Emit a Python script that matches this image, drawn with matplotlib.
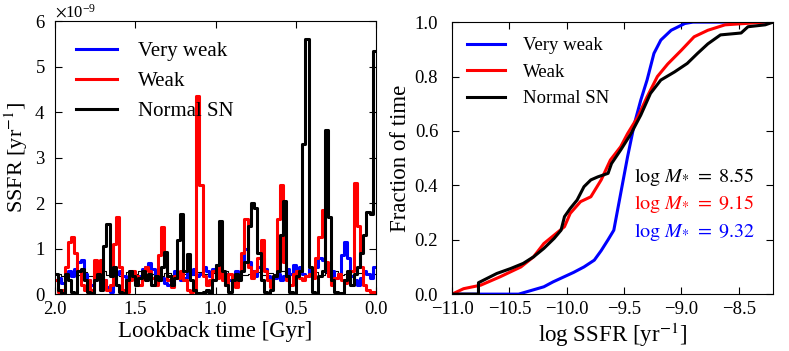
import numpy as np
import matplotlib
matplotlib.use("Agg")
import matplotlib.pyplot as plt
from matplotlib.ticker import ScalarFormatter

plt.rcParams['font.family'] = ['Liberation Serif', 'DejaVu Serif']
plt.rcParams['mathtext.fontset'] = 'stix'
plt.rcParams['xtick.direction'] = 'in'
plt.rcParams['ytick.direction'] = 'in'
plt.rcParams['xtick.top'] = True
plt.rcParams['ytick.right'] = True

# linkes Panel: SSFR in 1e-9 / yr, 20-Myr-Bins von 2.0 Gyr bis 0.0 Gyr
bin_width = 0.02
ssfr_very_weak = [0.3, 0.35, 0.25, 0.4, 0.5, 0.4, 0.55, 0.7, 0.75, 0.45,
                  0.3, 0.2, 0.35, 0.5, 0.4, 0.3, 0.15, 0.05, 0.3, 0.45,
                  0.5, 0.4, 0.3, 0.45, 0.35, 0.25, 0.4, 0.55, 0.6, 0.68,
                  0.55, 0.4, 0.3, 0.35, 0.25, 0.2, 0.3, 0.5, 0.45, 0.3,
                  0.35, 0.5, 0.45, 0.55, 0.4, 0.45, 0.6, 0.5, 0.4, 0.55,
                  0.65, 0.5, 0.35, 0.45, 0.3, 0.4, 0.5, 0.45, 0.6, 1.0,
                  0.7, 0.5, 0.4, 0.6, 0.8, 0.55, 0.4, 0.3, 0.35, 0.45,
                  0.3, 0.4, 0.55, 0.45, 0.65, 0.5, 0.6, 0.45, 0.4, 0.55,
                  0.5, 0.6, 0.8, 0.75, 0.5, 0.4, 0.5, 0.35, 0.45, 0.85,
                  1.15, 0.8, 0.4, 0.3, 0.2, 0.35, 0.5, 0.45, 0.35, 0.6]
ssfr_weak = [0.3, 0.05, 0.1, 0.6, 1.15, 1.25, 0.9, 0.5, 0.2, 0.1,
             0.3, 0.1, 0.75, 0.45, 0.75, 0.3, 0.1, 0.2, 1.1, 1.7,
             0.6, 0.1, 0.05, 0.3, 0.5, 0.4, 0.2, 0.35, 0.6, 0.5,
             0.35, 0.2, 0.85, 1.48, 0.7, 0.3, 0.15, 0.4, 0.35, 0.5,
             0.3, 0.1, 0.05, 0.1, 4.35, 2.4, 0.4, 0.2, 0.3, 0.5,
             0.35, 0.6, 0.3, 0.2, 0.45, 0.3, 0.15, 0.4, 0.9, 1.65,
             0.6, 0.35, 0.5, 0.8, 1.2, 0.5, 0.3, 0.15, 0.4, 1.65,
             2.4, 0.7, 0.3, 0.2, 0.45, 0.5, 0.35, 0.3, 0.4, 0.45,
             0.35, 0.8, 1.25, 1.85, 0.7, 0.4, 0.2, 0.35, 0.45, 0.3,
             0.25, 0.4, 0.5, 2.45, 1.5, 0.6, 0.2, 0.1, 0.05, 0.05]
ssfr_normal = [0.45, 0.1, 0.02, 0.45, 0.3, 0.05, 0.02, 0.5, 0.55, 0.3,
               0.05, 0.02, 0.3, 0.45, 0.1, 1.05, 1.55, 0.4, 0.6, 0.2,
               0.05, 0.02, 0.3, 0.5, 0.4, 0.2, 0.35, 0.5, 0.3, 0.45,
               0.2, 0.4, 0.3, 0.6, 0.92, 0.4, 0.2, 0.35, 1.2, 1.75,
               0.5, 0.88, 0.3, 0.1, 0.02, 0.02, 0.05, 0.1, 0.02, 0.3,
               0.65, 1.6, 0.5, 0.2, 0.05, 0.3, 0.45, 0.3, 0.5, 0.7,
               1.5, 2.0, 1.9, 0.9, 0.3, 0.05, 0.02, 0.1, 0.4, 0.5,
               1.3, 2.05, 0.4, 0.05, 0.02, 0.4, 0.5, 3.3, 5.6, 0.6,
               0.05, 0.02, 0.4, 0.5, 3.6, 1.7, 0.3, 0.05, 0.02, 0.02,
               0.3, 0.5, 0.2, 0.45, 0.6, 0.9, 1.3, 1.8, 1.75, 5.35]
# duenne schwarze Linie (40-Myr-Bins)
thin_width = 0.04
ssfr_normal_thin = [0.45, 0.4, 0.5, 0.42, 0.48, 0.4, 0.45, 0.5, 0.42, 0.46,
                    0.4, 0.48, 0.44, 0.5, 0.42, 0.45, 0.4, 0.47, 0.43, 0.5,
                    0.45, 0.41, 0.48, 0.44, 0.46, 0.4, 0.5, 0.43, 0.47, 0.42,
                    0.45, 0.49, 0.41, 0.46, 0.44, 0.5, 0.42, 0.47, 0.45, 0.4,
                    0.48, 0.43, 0.46, 0.5, 0.42, 0.45, 0.41, 0.47, 0.44, 0.45]

# rechtes Panel: kumulative Verteilung (log SSFR, Anteil)
cdf_vw_x = [-11.0, -10.42, -10.2, -10.12, -9.94, -9.85, -9.76, -9.7, -9.64, -9.59,
            -9.53, -9.47, -9.41, -9.355, -9.30, -9.24, -9.18, -9.09, -8.97, -8.9, -8.2]
cdf_vw_y = [0.0, 0.0, 0.027, 0.045, 0.08, 0.10, 0.125, 0.16, 0.2, 0.235,
            0.37, 0.505, 0.627, 0.713, 0.787, 0.885, 0.934, 0.97, 0.995, 1.0, 1.0]
cdf_w_x = [-11.0, -10.9, -10.75, -10.58, -10.4, -10.29, -10.2, -10.11, -10.02, -9.97,
           -9.88, -9.79, -9.7, -9.62, -9.53, -9.47, -9.38, -9.3, -9.21, -9.12,
           -9.0, -8.89, -8.77, -8.62, -8.27, -8.2]
cdf_w_y = [0.0, 0.02, 0.033, 0.064, 0.1, 0.137, 0.186, 0.217, 0.248, 0.297,
           0.34, 0.358, 0.42, 0.493, 0.542, 0.59, 0.652, 0.725, 0.8, 0.846,
           0.897, 0.946, 0.97, 0.99, 1.0, 1.0]
cdf_n_x = [-11.0, -10.77, -10.77, -10.61, -10.49, -10.38, -10.29, -10.2, -10.11, -10.05,
           -10.02, -9.97, -9.91, -9.85, -9.79, -9.73, -9.64, -9.61, -9.53, -9.44,
           -9.355, -9.27, -9.18, -9.06, -8.95, -8.86, -8.77, -8.66, -8.48, -8.42,
           -8.27, -8.2]
cdf_n_y = [0.0, 0.0, 0.042, 0.076, 0.094, 0.113, 0.137, 0.168, 0.205, 0.235,
           0.285, 0.315, 0.346, 0.395, 0.42, 0.431, 0.444, 0.48, 0.53, 0.59,
           0.658, 0.738, 0.787, 0.817, 0.848, 0.885, 0.92, 0.953, 0.96, 0.983,
           0.99, 1.0]

labels = ["Very weak", "Weak", "Normal SN"]
colors = ["blue", "red", "black"]
masses = [9.32, 9.15, 8.55]

fig = plt.figure(figsize=(7.89, 3.51), dpi=100)
ax1 = fig.add_axes([0.0697, 0.162, 0.407, 0.778])
ax2 = fig.add_axes([0.573, 0.162, 0.407, 0.775])

def step_series(vals, width):
    vals = np.array(vals) * 1e-9
    t = 2.0 - width * np.arange(len(vals) + 1)
    return t, np.append(vals, vals[-1])

t, y = step_series(ssfr_normal_thin, thin_width)
ax1.plot(t, y, color="black", lw=0.8, drawstyle="steps-post")
for vals, lab, col in zip([ssfr_very_weak, ssfr_weak, ssfr_normal], labels, colors):
    t, y = step_series(vals, bin_width)
    ax1.plot(t, y, color=col, lw=2.2, drawstyle="steps-post", label=lab)

ax1.set_xlim(2.0, 0.0)
ax1.set_ylim(0, 6e-9)
fmt = ScalarFormatter(useMathText=True)
fmt.set_powerlimits((0, 0))
ax1.yaxis.set_major_formatter(fmt)
ax1.set_xticks([2.0, 1.5, 1.0, 0.5, 0.0])
ax1.set_xticklabels(["2.0", "1.5", "1.0", "0.5", "0.0"])
ax1.set_xlabel("Lookback time [Gyr]", fontsize=16.5, labelpad=2)
ax1.set_ylabel(r"SSFR [yr$^{-1}$]", fontsize=16, labelpad=3)
ax1.yaxis.get_offset_text().set_fontsize(12)
ax1.legend(loc="upper left", frameon=False, fontsize=15, handlelength=2.0,
           handletextpad=1.0, borderaxespad=0.6)

for xs, ys, lab, col in zip([cdf_vw_x, cdf_w_x, cdf_n_x], [cdf_vw_y, cdf_w_y, cdf_n_y], labels, colors):
    ax2.plot(xs, ys, color=col, lw=2.2, label=lab)

ax2.set_xlim(-11.0, -8.2)
ax2.set_ylim(0, 1.0)
ax2.set_xticks([-11.0, -10.5, -10.0, -9.5, -9.0, -8.5])
ax2.set_xticklabels(["\u221211.0", "\u221210.5", "\u221210.0", "\u22129.5", "\u22129.0", "\u22128.5"])
ax2.set_yticks([0.0, 0.2, 0.4, 0.6, 0.8, 1.0])
ax2.set_xlabel(r"log SSFR [yr$^{-1}$]", fontsize=16.5, labelpad=2)
ax2.set_ylabel("Fraction of time", fontsize=16.5, labelpad=3)
ax2.legend(loc="upper left", frameon=False, fontsize=13.5, handlelength=2.0,
           handletextpad=1.0, borderaxespad=0.4)

for ax in (ax1, ax2):
    ax.tick_params(labelsize=13.5, length=5)
    ax.tick_params(axis="x", pad=5)
ax1.tick_params(axis="y", pad=7)
ax2.tick_params(axis="y", pad=10)

for i, (m, col) in enumerate(zip(masses[::-1], colors[::-1])):
    ax2.text(-9.41, 0.43 - 0.1 * i, r"$\log\,M_{*}\ =\ %.2f$" % m, color=col,
             fontsize=14.5, va="center", ha="left")

fig.savefig("out.png", dpi=100)
